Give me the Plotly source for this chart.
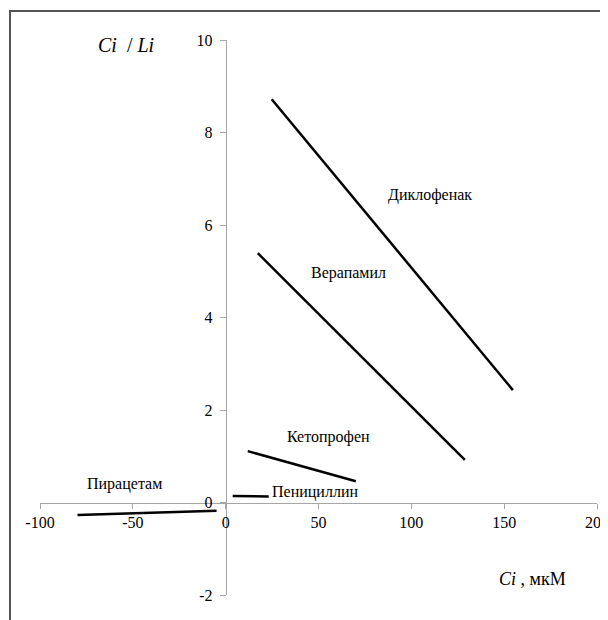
import plotly.graph_objects as go

# Series data (Ci in µM, Ci/Li)
names = ["Диклофенак", "Верапамил", "Кетопрофен", "Пенициллин", "Пирацетам"]
diclofenac_x = [24.8, 154.7]
diclofenac_y = [8.72, 2.43]
verapamil_x = [17.3, 128.8]
verapamil_y = [5.39, 0.92]
ketoprofen_x = [11.9, 70.1]
ketoprofen_y = [1.11, 0.46]
penicillin_x = [3.8, 23.2]
penicillin_y = [0.14, 0.13]
piracetam_x = [-79.8, -4.9]
piracetam_y = [-0.27, -0.18]

x_ticks = [-100, -50, 0, 50, 100, 150, 200]
y_ticks = [-2, 0, 2, 4, 6, 8, 10]

X_RANGE = [-100, 200]
Y_RANGE = [-2, 10]

FONT = "Liberation Serif, Times New Roman, serif"

fig = go.Figure()
for xs, ys in [(diclofenac_x, diclofenac_y), (verapamil_x, verapamil_y),
               (ketoprofen_x, ketoprofen_y), (penicillin_x, penicillin_y),
               (piracetam_x, piracetam_y)]:
    fig.add_trace(go.Scatter(x=xs, y=ys, mode="lines",
                             line=dict(color="black", width=2.5),
                             showlegend=False, hoverinfo="skip"))

# labels
labels = [
    ("Диклофенак", 110, 6.65, "center"),
    ("Верапамил", 66.3, 4.96, "center"),
    ("Кетопрофен", 31.8, 1.42, "left"),
    ("Пенициллин", 23.7, 0.23, "left"),
    ("Пирацетам", -54.4, 0.40, "center"),
]
for txt, x, y, xa in labels:
    fig.add_annotation(x=x, y=y, text=txt, showarrow=False, xanchor=xa,
                       yanchor="middle", font=dict(family=FONT, size=16, color="black"))

fig.add_annotation(x=-53.9, y=9.89, text="<i>Ci</i>  / <i>Li</i>", showarrow=False,
                   xanchor="center", yanchor="middle",
                   font=dict(family=FONT, size=20, color="black"))
fig.add_annotation(x=165.5, y=-1.65, text="<i>Ci</i> , мкМ", showarrow=False,
                   xanchor="center", yanchor="middle",
                   font=dict(family=FONT, size=18, color="black"))

x_zero_frac = (0 - X_RANGE[0]) / (X_RANGE[1] - X_RANGE[0])
y_zero_frac = (0 - Y_RANGE[0]) / (Y_RANGE[1] - Y_RANGE[0])

# page body has an 8px default margin: figure spans 600x612 from (8, 8)
fig.update_layout(
    width=600, height=612,
    margin=dict(l=32, r=11, t=32, b=25, autoexpand=False),
    paper_bgcolor="white", plot_bgcolor="white",
    font=dict(family=FONT, size=16, color="black"),
    xaxis=dict(range=X_RANGE, tickvals=x_ticks, ticktext=[str(v) for v in x_ticks],
               showgrid=False, zeroline=False, showline=True, linecolor="#a6a6a6",
               linewidth=1, ticks="outside", ticklen=5, tickcolor="#a6a6a6",
               anchor="free", position=y_zero_frac, domain=[0, 1],
               automargin=False, ticklabeloverflow="allow",
               tickfont=dict(family=FONT, size=16, color="black")),
    yaxis=dict(range=Y_RANGE, tickvals=y_ticks, ticktext=[str(v) for v in y_ticks],
               showgrid=False, zeroline=False, showline=True, linecolor="#a6a6a6",
               linewidth=1, ticks="outside", ticklen=6, tickcolor="#a6a6a6",
               anchor="free", position=x_zero_frac, domain=[0, 1],
               automargin=False, ticklabeloverflow="allow", ticklabelstandoff=4,
               tickfont=dict(family=FONT, size=16, color="black")),
)

# outer frame (left and top edges visible, as in the reference)
fig.add_shape(type="rect", xref="paper", yref="paper",
              x0=(2 - 32) / 557, x1=1.2, y0=-0.2, y1=1 + (32 - 3) / 555,
              line=dict(color="#555555", width=2), layer="below")

fig.write_html("out.html")
